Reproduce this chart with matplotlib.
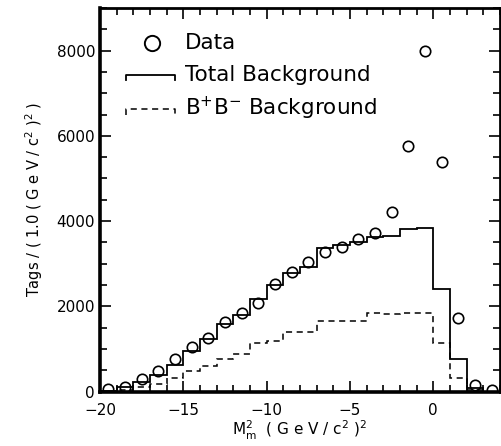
import numpy as np
import matplotlib
matplotlib.use('Agg')
import matplotlib.pyplot as plt
import matplotlib.ticker as plt_ticker

# bin edges in M_m^2, 1 (GeV/c^2)^2 wide
edges = np.arange(-20, 5, 1)

# total background per bin
total_bkg = [20, 118, 215, 400, 630, 955, 1240, 1590, 1790, 2180,
             2490, 2780, 2915, 3360, 3440, 3500, 3620, 3640, 3820, 3850,
             2410, 765, 80, 0]

# B+B- background per bin
bb_bkg = [0, 40, 104, 185, 320, 489, 607, 765, 890, 1143,
          1180, 1400, 1400, 1655, 1655, 1660, 1840, 1810, 1850, 1850,
          1130, 320, 30, 0]

# data points at bin centres
data_x = edges[:-1] + 0.5
data_y = [50, 118, 292, 472, 765, 1048, 1250, 1640, 1852, 2088,
          2530, 2797, 3033, 3283, 3402, 3583, 3717, 4213, 5760, 7990,
          5390, 1720, 150, 30]

fig = plt.figure(figsize=(5.02, 4.46), dpi=100)
ax = fig.add_axes([0.199, 0.122, 0.797, 0.860])

ax.stairs(total_bkg, edges, baseline=0, color='black', lw=1.3)
ax.stairs(bb_bkg, edges, baseline=0, color='black', lw=1.1, linestyle=(0, (4, 3)))
ax.plot(data_x, data_y, 'o', mfc='none', mec='black', ms=7.5, mew=1.2)

ax.set_xlim(-20, 4)
ax.set_ylim(0, 9000)

ax.xaxis.set_major_locator(plt_ticker.MultipleLocator(5))
ax.xaxis.set_minor_locator(plt_ticker.MultipleLocator(1))
ax.yaxis.set_major_locator(plt_ticker.MultipleLocator(2000))
ax.yaxis.set_minor_locator(plt_ticker.MultipleLocator(500))
ax.xaxis.set_major_formatter(plt_ticker.FuncFormatter(lambda v, p: f'{int(v)}'.replace('-', '\u2212')))
ax.tick_params(which='both', direction='in', top=True, right=True, labelsize=11, width=1.2)
ax.tick_params(which='major', length=8)
ax.tick_params(which='minor', length=5)
ax.tick_params(axis='x', pad=8)

for side in ['left', 'bottom']:
    ax.spines[side].set_linewidth(2.6)
for side in ['top', 'right']:
    ax.spines[side].set_linewidth(2.0)

ax.set_xlabel(r'M$_{\rm m}^2$  ( G e V / c$^2$ )$^2$', fontsize=11, labelpad=1)
ax.set_ylabel(r'Tags / ( 1.0 ( G e V / c$^2$ )$^2$ )', fontsize=10.5, labelpad=8)

# hand-drawn legend in axes fraction
tr = ax.transAxes
ax.plot([0.13], [0.909], 'o', mfc='none', mec='black', ms=11, mew=1.4, transform=tr, clip_on=False)
ax.text(0.212, 0.909, 'Data', fontsize=15.5, va='center', transform=tr)
ax.plot([0.065, 0.065, 0.188, 0.188], [0.812, 0.826, 0.826, 0.812], color='black', lw=1.3, transform=tr)
ax.text(0.212, 0.826, 'Total Background', fontsize=15.5, va='center', transform=tr)
ax.plot([0.065, 0.065, 0.188, 0.188], [0.722, 0.736, 0.736, 0.722], color='black', lw=1.1,
        linestyle=(0, (4, 3)), transform=tr)
ax.text(0.212, 0.738, r'B$^{+}$B$^{-}$ Background', fontsize=15.5, va='center', transform=tr)

fig.savefig('out.png', dpi=100)
